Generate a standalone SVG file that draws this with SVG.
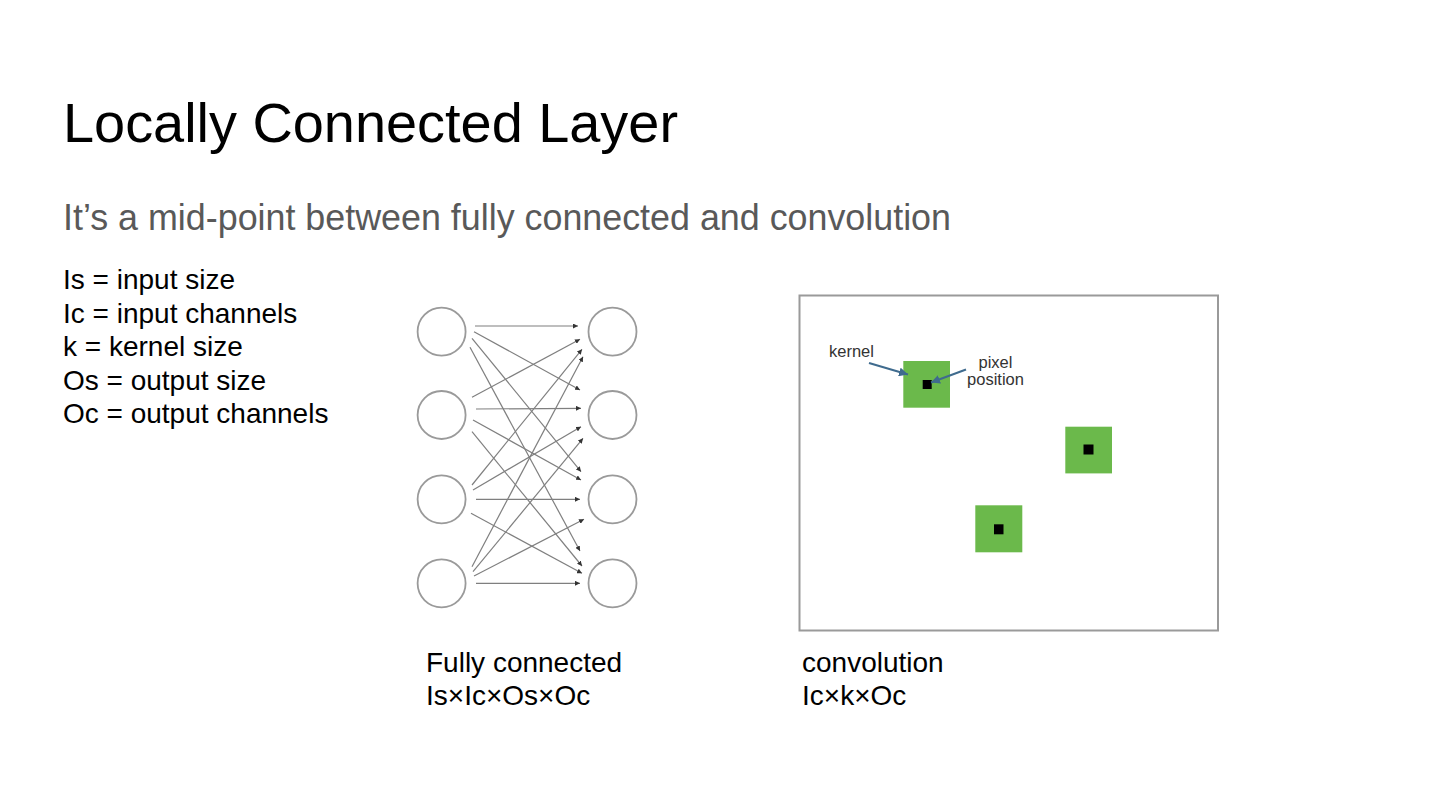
<svg xmlns="http://www.w3.org/2000/svg" width="1440" height="810" viewBox="0 0 1440 810">
<defs>
<style>
.t{font-family:"Liberation Sans",Arial,sans-serif;fill:#000}
.title{font-size:56px}
.sub{font-size:36px;fill:#595959}
.body{font-size:28px}
.small{font-size:16.5px;fill:#333}
.node{fill:#fff;stroke:#9a9a9a;stroke-width:1.8}
.edge{stroke:#7f7f7f;stroke-width:1.2;fill:none;marker-end:url(#ah)}
.green{fill:#6bb94b}
.dot{fill:#000}
.blue{stroke:#3f6b8e;stroke-width:2;fill:none;marker-end:url(#bh)}
</style>
<marker id="ah" viewBox="0 0 6 6" refX="6" refY="3" markerWidth="5" markerHeight="5" markerUnits="userSpaceOnUse" orient="auto"><path d="M0,0L6,3L0,6z" fill="#333"/></marker>
<marker id="bh" viewBox="0 0 10 10" refX="10" refY="5" markerWidth="9" markerHeight="9" markerUnits="userSpaceOnUse" orient="auto"><path d="M0,0L10,5L0,10z" fill="#3f6b8e"/></marker>
</defs>
<rect width="1440" height="810" fill="#fff"/>
<text class="t title" x="63" y="142" textLength="615" lengthAdjust="spacingAndGlyphs">Locally Connected Layer</text>
<text class="t sub" x="63" y="230" textLength="888" lengthAdjust="spacingAndGlyphs">It’s a mid-point between fully connected and convolution</text>
<g id="legend">
<text class="t body" x="63" y="289">Is = input size</text>
<text class="t body" x="63" y="323">Ic = input channels</text>
<text class="t body" x="63" y="356">k = kernel size</text>
<text class="t body" x="63" y="390">Os = output size</text>
<text class="t body" x="63" y="423">Oc = output channels</text>
</g>
<g id="connectors">
<line class="edge" x1="475" y1="326" x2="578" y2="326"/>
<line class="edge" x1="474" y1="331.7" x2="580" y2="390"/>
<line class="edge" x1="472" y1="338.3" x2="581" y2="471.7"/>
<line class="edge" x1="470" y1="347.3" x2="580" y2="551"/>
<line class="edge" x1="472" y1="397.3" x2="580" y2="339.3"/>
<line class="edge" x1="476" y1="409" x2="581" y2="408.3"/>
<line class="edge" x1="473" y1="420" x2="581" y2="480"/>
<line class="edge" x1="472" y1="431.7" x2="582" y2="566"/>
<line class="edge" x1="472" y1="485" x2="582" y2="349.3"/>
<line class="edge" x1="473" y1="490" x2="581" y2="426.7"/>
<line class="edge" x1="476" y1="499.3" x2="580" y2="499.3"/>
<line class="edge" x1="471" y1="513.3" x2="582" y2="573.3"/>
<line class="edge" x1="472" y1="566.7" x2="583" y2="356.7"/>
<line class="edge" x1="473" y1="571.7" x2="583" y2="438.3"/>
<line class="edge" x1="474" y1="576" x2="584" y2="519.3"/>
<line class="edge" x1="476" y1="583.3" x2="580" y2="583.3"/>
</g>
<g id="in1"><circle class="node" cx="441.6" cy="331.7" r="24"/></g>
<g id="in2"><circle class="node" cx="441.6" cy="415" r="24"/></g>
<g id="in3"><circle class="node" cx="441.6" cy="499.3" r="24"/></g>
<g id="in4"><circle class="node" cx="441.6" cy="583.3" r="24"/></g>
<g id="out1"><circle class="node" cx="612.5" cy="331.7" r="24"/></g>
<g id="out2"><circle class="node" cx="612.5" cy="415" r="24"/></g>
<g id="out3"><circle class="node" cx="612.5" cy="499.3" r="24"/></g>
<g id="out4"><circle class="node" cx="612.5" cy="583.3" r="24"/></g>
<g id="conv">
<rect x="799.5" y="295.5" width="418.5" height="335" fill="#fff" stroke="#9a9a9a" stroke-width="2"/>
<rect class="green" x="903.3" y="361" width="46.7" height="46.7"/>
<rect class="dot" x="922.7" y="380" width="9" height="9"/>
<rect class="green" x="1065.3" y="426.7" width="46.7" height="46.7"/>
<rect class="dot" x="1083.5" y="444.5" width="10" height="10"/>
<rect class="green" x="975.3" y="505.3" width="47" height="47"/>
<rect class="dot" x="994" y="524.3" width="9.5" height="10"/>
<text class="t small" x="829" y="356.5">kernel</text>
<text class="t small" x="995.5" y="368" text-anchor="middle">pixel</text>
<text class="t small" x="995.5" y="385" text-anchor="middle">position</text>
<line class="blue" x1="869" y1="363" x2="908" y2="374.5"/>
<line class="blue" x1="966" y1="369.5" x2="931" y2="382.5"/>
</g>
<text class="t body" x="426" y="672">Fully connected</text>
<text class="t body" x="426" y="705">Is×Ic×Os×Oc</text>
<text class="t body" x="802" y="672">convolution</text>
<text class="t body" x="802" y="705">Ic×k×Oc</text>
</svg>
